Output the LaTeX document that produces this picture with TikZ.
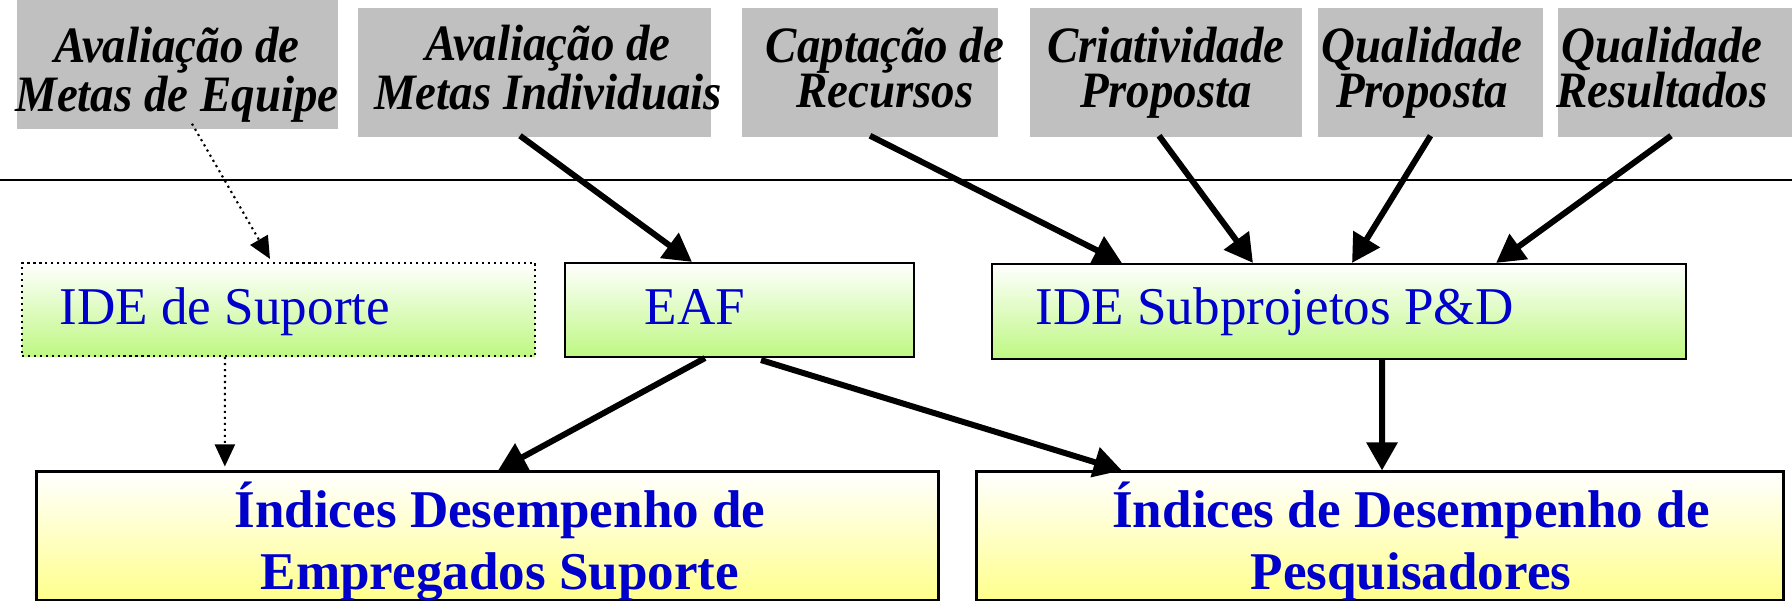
\documentclass[tikz,border=0pt]{standalone}
\usepackage{fontspec}
\setmainfont{Liberation Serif}
\newfontfamily\metafont[FakeStretch=0.92]{Liberation Serif}
\usetikzlibrary{arrows.meta}

\definecolor{boxgray}{RGB}{192,192,192}
\definecolor{txtblue}{RGB}{0,0,204}
\definecolor{leafgreen}{RGB}{190,248,130}
\definecolor{paleyellow}{RGB}{255,255,140}

\tikzset{
  metabox/.style={fill=boxgray, inner sep=0pt, minimum height=1.29cm},
  metatxt/.style={align=center, inner sep=0pt, anchor=base,
    font=\metafont\fontsize{14.5pt}{12.8pt}\selectfont\bfseries\itshape},
  idebox/.style={draw, line width=0.6pt, inner sep=0pt, minimum height=0.94cm,
    top color=white, bottom color=leafgreen},
  idetxt/.style={text=txtblue, inner sep=0pt, anchor=base west,
    font=\fontsize{15.1pt}{18pt}\selectfont},
  indbox/.style={draw, line width=0.85pt, inner sep=0pt, minimum height=1.28cm,
    top color=white, bottom color=paleyellow},
  indtxt/.style={text=txtblue, align=center, inner sep=0pt, anchor=base,
    font=\fontsize{15.1pt}{17.9pt}\selectfont\bfseries},
  seta/.style={line width=1.7pt, -{Triangle[length=0.28cm, width=0.30cm]}},
  pontos/.style={line width=0.6pt, dash pattern=on 0.6pt off 1.1pt},
  setapont/.style={pontos, -{Triangle[length=0.22cm, width=0.20cm]}}
}

\begin{document}
\begin{tikzpicture}[x=0.01cm, y=-0.01cm]

	\useasboundingbox (0,0) rectangle (1792,601);
	\clip (0,0) rectangle (1792,601);

	% caixas cinzas do topo
	\node[metabox, minimum width=3.21cm] (equipe) at (177.5,64.5) {};
	\node[metabox, minimum width=3.53cm] (indiv) at (534.5,72.5) {};
	\node[metabox, minimum width=2.56cm] (capt) at (870,72.5) {};
	\node[metabox, minimum width=2.72cm] (criat) at (1166,72.5) {};
	\node[metabox, minimum width=2.25cm] (qprop) at (1430.5,72.5) {};
	\node[metabox, minimum width=2.34cm] (qres) at (1675,72.5) {};

	\node[metatxt] (equipet) at (177,112) {Avaliação de\\Metas de Equipe};
	\node[metatxt] (indivt) at (548,110) {Avaliação de\\Metas Individuais};
	\node[metatxt] (captt) at (885,108) {Captação de\\Recursos};
	\node[metatxt] (criatt) at (1166,108) {Criatividade\\Proposta};
	\node[metatxt] (qpropt) at (1422,108) {Qualidade\\Proposta};
	\node[metatxt] (qrest) at (1662,108) {Qualidade\\Resultados};

	\draw[line width=0.4pt] (0,180) -- (1792,180);

	% indicadores intermediarios
	\node[idebox, pontos, minimum width=5.13cm, minimum height=0.93cm] (sup) at (278.5,309.5) {};
	\node[idebox, minimum width=3.49cm] (eaf) at (739.5,310) {};
	\node[idebox, minimum width=6.94cm, minimum height=0.95cm] (sub) at (1339,311.5) {};

	\node[idetxt] (supt) at (59,325) {IDE de Suporte};
	\node[idetxt] (eaft) at (644,325) {EAF};
	\node[idetxt] (subt) at (1035,325) {IDE Subprojetos P\&D};

	% indices finais
	\node[indbox, minimum width=9.01cm] (ies) at (487.5,536) {};
	\node[indbox, minimum width=8.06cm] (ipq) at (1380,536) {};

	\node[indtxt] (iest) at (500,590) {Índices Desempenho de\\Empregados Suporte};
	\node[indtxt] (ipqt) at (1411,590) {Índices de Desempenho de\\Pesquisadores};

	% setas
	\draw[setapont] ([xshift=0.145cm, yshift=0.06cm]equipe.south) -- ([xshift=-0.085cm, yshift=0.03cm]sup.north);
	\draw[setapont] ([xshift=-0.535cm]sup.south) -- ([xshift=-2.625cm, yshift=0.04cm]ies.north);

	\draw[seta] ([xshift=-0.145cm, yshift=0.02cm]indiv.south) -- ([xshift=-0.475cm]eaf.north);
	\draw[seta] ([yshift=0.02cm]capt.south) -- ([xshift=-2.17cm]sub.north);
	\draw[seta] ([xshift=-0.07cm, yshift=0.02cm]criat.south) -- ([xshift=-0.86cm]sub.north);
	\draw[seta] ([yshift=0.02cm]qprop.south) -- ([xshift=0.13cm]sub.north);
	\draw[seta] ([xshift=-0.04cm, yshift=0.02cm]qres.south) -- ([xshift=1.57cm]sub.north);

	\draw[seta] ([xshift=-0.345cm]eaf.south) -- ([xshift=0.105cm]ies.north);
	\draw[seta] ([xshift=0.215cm, yshift=-0.02cm]eaf.south) -- ([xshift=-2.58cm]ipq.north);
	\draw[seta] ([xshift=0.43cm]sub.south) -- ([xshift=0.02cm]ipq.north);

\end{tikzpicture}
\end{document}
